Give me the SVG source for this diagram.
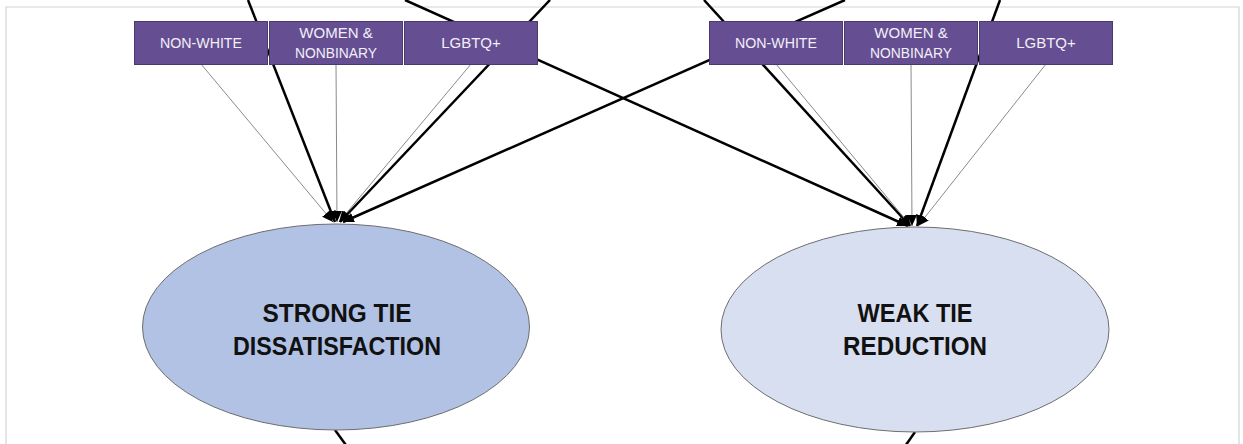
<svg xmlns="http://www.w3.org/2000/svg" width="1243" height="444" viewBox="0 0 1243 444">
<style>
.box{fill:#664E93;stroke:#4A3A6E;stroke-width:1}
.bt{font-family:"Liberation Sans",Arial,sans-serif;font-size:15px;fill:#F2F0F7;text-anchor:middle}
.et{font-family:"Liberation Sans",Arial,sans-serif;font-size:25px;font-weight:bold;fill:#111;text-anchor:middle}
.thick{stroke:#000;stroke-width:2.5;fill:none;marker-end:url(#ah)}
.thin{stroke:#8A8A8A;stroke-width:1;fill:none;marker-end:url(#ah)}
.out{stroke:#000;stroke-width:2.5;fill:none}
</style>
<defs>
<marker id="ah" markerUnits="userSpaceOnUse" markerWidth="12" markerHeight="10" refX="11" refY="5" orient="auto">
<path d="M0,0 L11,5 L0,10 z" fill="#000"/>
</marker>
</defs>
<rect x="0" y="0" width="1243" height="444" fill="#fff"/>
<path d="M6,460 V7 H1239 V460" fill="none" stroke="#D4D4D4" stroke-width="1.2"/>
<g id="connectors">
<line class="thin" x1="201" y1="64" x2="333" y2="222"/>
<line class="thick" x1="248" y1="0" x2="335" y2="222"/>
<line class="thin" x1="336" y1="64" x2="337" y2="222"/>
<line class="thin" x1="471" y1="64" x2="339" y2="222"/>
<line class="thick" x1="550" y1="0" x2="340" y2="222"/>
<line class="thick" x1="845" y1="0" x2="343" y2="222"/>
<line class="thick" x1="405" y1="0" x2="908" y2="226"/>
<line class="thick" x1="704" y1="0" x2="910" y2="226"/>
<line class="thin" x1="776" y1="64" x2="911" y2="226"/>
<line class="thin" x1="911" y1="64" x2="912" y2="226"/>
<line class="thick" x1="1000" y1="0" x2="917" y2="226"/>
<line class="thin" x1="1046" y1="64" x2="918" y2="226"/>
<line class="out" x1="335" y1="430" x2="351" y2="452"/>
<line class="out" x1="915" y1="432" x2="901" y2="452"/>
</g>
<g id="lnw"><rect class="box" x="134.5" y="21.5" width="133" height="43"/><text class="bt" x="201" y="48" textLength="82" lengthAdjust="spacingAndGlyphs">NON-WHITE</text></g>
<g id="lwn"><rect class="box" x="269.5" y="21.5" width="133" height="43"/><text class="bt" x="336" y="38">WOMEN &amp;</text><text class="bt" x="336" y="58" textLength="82" lengthAdjust="spacingAndGlyphs">NONBINARY</text></g>
<g id="llg"><rect class="box" x="404.5" y="21.5" width="133" height="43"/><text class="bt" x="471" y="48">LGBTQ+</text></g>
<g id="rnw"><rect class="box" x="709.5" y="21.5" width="133" height="43"/><text class="bt" x="776" y="48" textLength="82" lengthAdjust="spacingAndGlyphs">NON-WHITE</text></g>
<g id="rwn"><rect class="box" x="844.5" y="21.5" width="133" height="43"/><text class="bt" x="911" y="38">WOMEN &amp;</text><text class="bt" x="911" y="58" textLength="82" lengthAdjust="spacingAndGlyphs">NONBINARY</text></g>
<g id="rlg"><rect class="box" x="979.5" y="21.5" width="133" height="43"/><text class="bt" x="1046" y="48">LGBTQ+</text></g>
<g id="strong"><ellipse cx="336" cy="327" rx="193.5" ry="103" fill="#B2C2E5" stroke="#6E6E6E" stroke-width="1"/><text class="et" x="337" y="322" textLength="149" lengthAdjust="spacingAndGlyphs">STRONG TIE</text><text class="et" x="337" y="355" textLength="208" lengthAdjust="spacingAndGlyphs">DISSATISFACTION</text></g>
<g id="weak"><ellipse cx="915" cy="329.5" rx="194" ry="102.5" fill="#D8DFF1" stroke="#6E6E6E" stroke-width="1"/><text class="et" x="915" y="322" textLength="115" lengthAdjust="spacingAndGlyphs">WEAK TIE</text><text class="et" x="915" y="355" textLength="144" lengthAdjust="spacingAndGlyphs">REDUCTION</text></g>
</svg>
